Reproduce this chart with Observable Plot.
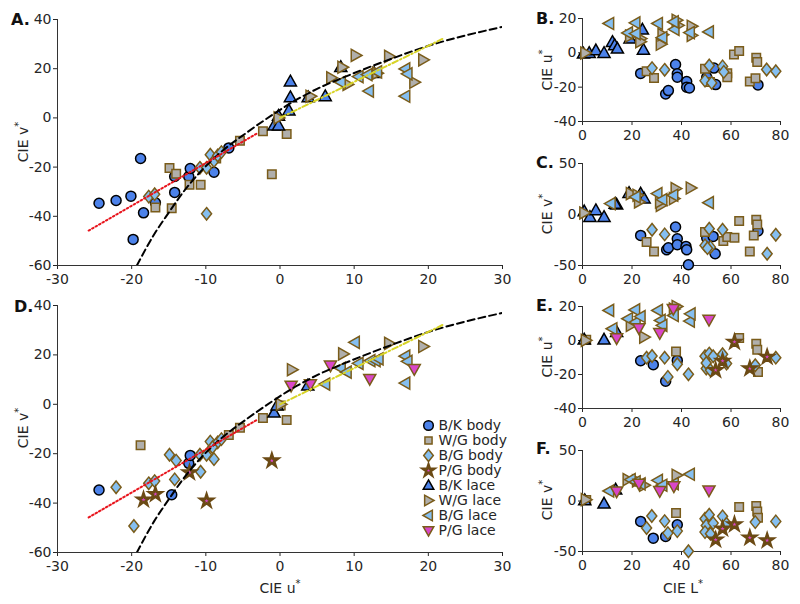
<!DOCTYPE html>
<html><head><meta charset="utf-8">
<script src="https://cdn.jsdelivr.net/npm/d3@7"></script>
<script src="https://cdn.jsdelivr.net/npm/@observablehq/plot@0.6"></script>
<style>
body{margin:0;background:#fff;}
#wrap{position:relative;width:800px;height:604px;overflow:hidden;font-family:"DejaVu Sans",sans-serif;color:#262626;background:#fff;}
#wrap svg{position:absolute;overflow:visible;}
</style></head><body><div id="wrap"></div>
<script>
// ---------- DATA ----------
const uTicks = [-30,-20,-10,0,10,20,30];
const vTicksBig = [-60,-40,-20,0,20,40];
const LTicks = [0,20,40,60,80];
const uTicksSmall = [-40,-20,0,20];
const vTicksSmall = [-50,0,50];

const seriesNames = ["B/K body","W/G body","B/G body","P/G body","B/K lace","W/G lace","B/G lace","P/G lace"];

// fitted lines (u*, v*)
const lineBlack = [[-19.3,-60],[-17,-47.5],[-15,-38.5],[-13,-30],[-11,-22.8],[-8,-14],[-4.5,-6],[-1,1.3],[2,7],[5,11.8],[9.5,17.6],[15,24],[20,29.3],[25,33.5],[30,37]];
const lineRed = [[-25.8,-45.8],[-3.1,-6.3]];
const lineYellow = [[0,0],[21.9,32.1]];

// Panel A (u*, v*)
const A_bkBody = [[-24.4,-34.7],[-22.1,-33.6],[-20.1,-31.8],[-18.8,-16.5],[-18.4,-38.6],[-19.8,-49.4],[-16.8,-34.5],[-14.2,-30.3],[-14.2,-23.8],[-12.3,-23.8],[-12.1,-20.6],[-8.9,-22.1],[-6.9,-12.2]];
const A_wgBody = [[-14.9,-20.4],[-14.0,-22.7],[-16.8,-36.4],[-14.6,-36.7],[-12.2,-27.2],[-10.7,-27.2],[-5.4,-9.3],[-2.3,-5.4],[-1.1,-22.9],[0.9,-6.5],[-8.6,-16.5]];
const A_bgBody = [[-17.7,-32],[-16.9,-31],[-10.8,-20.3],[-9.9,-20.3],[-9.4,-15],[-8.9,-17.5],[-8.4,-15.3],[-7.9,-13.9],[-9.9,-39]];
const A_bkLace = [[1.4,14.8],[1.4,8.4],[1.2,3],[-0.8,-3.1],[-0.2,-3.1],[-0.2,0.8],[3.8,8.4],[6.1,8.8],[8.2,20.6],[12.7,18.2]];
const A_wgLace = [[10.2,25.4],[14.7,25],[19.3,23.6],[6.9,16.3],[8.4,20.6],[4.1,8.8],[-0.2,0],[18.1,14.5],[9.1,13.6],[13.1,18.2]];
const A_bgLace = [[8.2,14.5],[10.6,16.8],[12,10.9],[16.9,19.9],[17.2,17.9],[16.9,8.8],[13.1,18.7],[11.8,17.6]];

// Panel B (L*, u*)
const B_bkBody = [[23.5,-12],[33.6,-24],[34.7,-22],[37.6,-6.8],[38.3,-12.2],[38.3,-14.2],[42.1,-16.7],[42.1,-20],[43.2,-20.5],[50.2,-14.2],[53.1,-8.9],[53.8,-18.5],[70.9,-18.7]];
const B_wgBody = [[25.9,-10.7],[28.9,-14.6],[49.5,-9.3],[61.2,-0.9],[63.3,1],[58.5,-11.9],[58.5,-14.2],[70.2,-2.9],[70.6,-5.4],[67.6,-16.7],[69.9,-14.8],[51.5,-17]];
const B_bgBody = [[28.1,-8.9],[33.2,-9.9],[49.5,-16.2],[51.2,-7.4],[52.2,-17.5],[56.6,-7.9],[57.1,-11.1],[74.4,-9.7],[78.1,-10.7]];
const B_bkLace = [[0.4,-0.5],[2.7,-0.1],[5.4,1.4],[8.7,-0.1],[12.1,6.3],[13,4.4],[14.1,2.4],[19.2,8.3],[24.2,13.5],[24.6,1.8]];
const B_wgLace = [[1.1,-0.1],[19.2,9.8],[23.5,8.3],[31.6,5],[32.3,10.6],[38,19],[38.6,16],[44.1,15.5],[44.1,10.2],[23.3,6.5]];
const B_bgLace = [[10.8,17.1],[18.4,11.6],[21.4,17.5],[21.5,11.2],[30.5,17.1],[32.3,8.9],[37.2,13.7],[43.4,11.8],[51.1,12.2],[36.9,18]];

// Panel C (L*, v*)
const C_bkBody = [[23.5,-20.5],[34,-34.6],[34.7,-32.6],[37.6,-12.3],[38.3,-23.8],[38.3,-29.7],[41.8,-31.3],[42.1,-34.6],[42.8,-49.3],[50.2,-23.1],[52.8,-21.5],[53.6,-38.5],[70.9,-16.2]];
const C_wgBody = [[25.9,-27],[28.9,-36.2],[49.5,-17.2],[56.9,-26.1],[58.5,-22.1],[61.4,-22.8],[63.3,-6.4],[70.2,-5.1],[70.6,-9.7],[69.2,-20.5],[67.6,-36.2]];
const C_bgBody = [[28.1,-14.9],[33.2,-19.5],[49.5,-30.3],[51.2,-13.9],[51.7,-32],[56.6,-14.9],[74.6,-38.5],[78.1,-19.8],[50.5,-33]];
const C_bkLace = [[0.7,3.1],[3,-2.5],[5.4,4.1],[8.7,-2.5],[13.8,9.7],[13.2,10.5],[18.8,21.1],[23.5,20.5],[24.9,15.6]];
const C_wgLace = [[0.7,1.5],[19.5,20.5],[22.2,18.9],[22.8,12.3],[31.6,9],[31.3,12.3],[37.6,25.4],[36.9,15.6],[43.7,26]];
const C_bgLace = [[11.4,10.7],[21.5,17.2],[30.3,20.5],[32.3,14.6],[36.7,18.9],[51.1,11.6]];

// Panel D (u*, v*)
const D_bkBody = [[-24.4,-34.7],[-14.6,-36.6],[-12.3,-23.9],[-12.1,-20.7]];
const D_wgBody = [[-18.8,-16.6],[-2.3,-5.5],[0.9,-6.4],[-5.4,-9.5],[-6.9,-12.4],[0.1,-0.5]];
const D_bgBody = [[-22.1,-33.6],[-19.7,-49.3],[-17.7,-32],[-16.9,-31.1],[-14.9,-20.4],[-14,-22.8],[-14.2,-30.4],[-10.7,-27.3],[-10.8,-20.4],[-9.9,-20.4],[-9.4,-15.1],[-8.9,-22.2],[-8.4,-15.4],[-7.9,-14.1],[-9.1,-17.4]];
const D_pgBody = [[-18.4,-38.6],[-16.8,-36.4],[-12.2,-27.6],[-9.9,-39.1],[-1.1,-22.8]];
const D_bkLace = [[-0.8,-3.4],[-0.4,-0.5],[3.75,7.6]];
const D_wgLace = [[1.6,14],[8.5,20.4],[14.7,24.7],[19.3,23.4],[0.1,0]];
const D_bgLace = [[10.1,25.1],[8.2,14.6],[9,13],[6.1,8.2],[10.6,16.6],[12.2,17.7],[12.9,17.7],[16.9,19.5],[17.2,17.4],[16.9,8.6],[13.3,18.4]];
const D_pgLace = [[1.5,7.6],[4.1,8.2],[6.8,15.7],[12.1,10.3],[18.1,14.3]];

// Panel E (L*, u*)
const E_bkBody = [[23.5,-11.9],[28.6,-14.2],[33.6,-24],[38.3,-11.7]];
const E_wgBody = [[1.5,0.5],[37.8,-6.4],[63.3,1.4],[70.2,-1.9],[70.6,-5.4],[70.9,-18.5]];
const E_bgBody = [[25.9,-10.1],[28.1,-9.1],[33.2,-10.1],[34.5,-21.4],[38.3,-14],[42.8,-19.9],[49.5,-9.3],[51.2,-7.7],[50,-16.5],[50,-13.2],[51.7,-17.5],[52.8,-9.3],[56.6,-8.1],[58.2,-13.6],[69.8,-14.6],[78.1,-10.1]];
const E_pgBody = [[53.8,-17.5],[56.6,-12],[61.4,-0.9],[67.6,-16.5],[74.6,-9.7]];
const E_bkLace = [[0.7,0.5],[8.7,0.5],[13.8,5]];
const E_wgLace = [[1.3,0.1],[19.5,8.9],[24.9,2],[38,20],[36.9,18.5]];
const E_bgLace = [[10.8,17.7],[12.1,6.9],[18.4,12.8],[21.3,18],[21.5,10.8],[23.5,14.1],[30.5,17.7],[31.6,11.8],[32.3,8.9],[36.9,14.7],[43.4,11.4],[43.7,15.7]];
const E_pgLace = [[13.8,1.4],[22.8,7.3],[31.2,4.4],[36.7,18.6],[51.1,12.2]];

// Panel F (L*, v*)
const F_bkBody = [[23.5,-20.2],[28.6,-36.8],[33.6,-35.1],[38.3,-23.5]];
const F_wgBody = [[1.5,1],[37.8,-11.9],[63.3,-6],[70.2,-5],[70.6,-10.3],[70.9,-16.6]];
const F_bgBody = [[28,-14.9],[25.9,-26.8],[33.2,-19.9],[34.5,-31.8],[38.3,-29.8],[42.8,-49.7],[49.5,-17.5],[51.2,-13.6],[50,-24.2],[49.5,-30.8],[51.7,-32.5],[52.8,-21.9],[56.6,-15.2],[58.2,-22.5],[69.8,-20.9],[78.1,-20.2]];
const F_pgBody = [[53.8,-38.4],[56.6,-27.5],[61.4,-23.2],[67.6,-36.4],[74.6,-39.1]];
const F_bkLace = [[0.9,0.7],[8.7,-2.6],[13.4,11.3]];
const F_wgLace = [[1.3,1.3],[18.2,21.2],[24.9,15.6],[38,25.5],[22,20]];
const F_bgLace = [[10.8,9.9],[19.5,21.2],[21.5,18.9],[30.5,20.5],[32.3,15.6],[36.9,17.2],[43.4,26.5],[23.5,17]];
const F_pgLace = [[13.8,9.6],[22.8,17.2],[31.2,9.9],[36.9,14.6],[51.1,10.6]];

// ---------- STYLE ----------
const BROWN = "#7a5c1a", BLUE = "#4c82ea", LBLUE = "#85bff0", GRAY = "#b0afac", MAG = "#d946c8";
function poly(pts){ return {draw(ctx,size){ const r=Math.sqrt(size/Math.PI); ctx.moveTo(pts[0][0]*r,pts[0][1]*r); for(let i=1;i<pts.length;i++) ctx.lineTo(pts[i][0]*r,pts[i][1]*r); ctx.closePath(); }}; }
const SYM = {
  circle: "circle",
  square: poly([[-0.85,-0.85],[0.85,-0.85],[0.85,0.85],[-0.85,0.85]]),
  diamond: poly([[0,-1.25],[1,0],[0,1.25],[-1,0]]),
  star: "star",
  triUp: poly([[0,-1.15],[1.1,0.8],[-1.1,0.8]]),
  triRight: poly([[1.15,0],[-0.8,-1.1],[-0.8,1.1]]),
  triLeft: poly([[-1.15,0],[0.8,-1.1],[0.8,1.1]]),
  triDown: poly([[0,1.15],[1.1,-0.8],[-1.1,-0.8]])
};
const STY = {
  "B/K body": {symbol: SYM.circle, fill: BLUE, stroke: "#000", r: 5},
  "W/G body": {symbol: SYM.square, fill: GRAY, stroke: BROWN, r: 5},
  "B/G body": {symbol: SYM.diamond, fill: LBLUE, stroke: BROWN, r: 5},
  "P/G body": {symbol: SYM.star, fill: MAG, stroke: "#6b4a14", r: 3.8, strokeWidth: 2.6},
  "B/K lace": {symbol: SYM.triUp, fill: BLUE, stroke: "#000", r: 5.5},
  "W/G lace": {symbol: SYM.triRight, fill: GRAY, stroke: BROWN, r: 5.5},
  "B/G lace": {symbol: SYM.triLeft, fill: LBLUE, stroke: BROWN, r: 5.5},
  "P/G lace": {symbol: SYM.triDown, fill: MAG, stroke: BROWN, r: 5.5}
};
function dots(data, name){
  const s = STY[name];
  return Plot.dot(data, {x: d=>d[0], y: d=>d[1], symbol: s.symbol, fill: s.fill, stroke: s.stroke, r: s.r, strokeWidth: s.strokeWidth || 1.5});
}
function fitLines(){
  return [
    Plot.line(lineBlack, {x: d=>d[0], y: d=>d[1], stroke: "#000", strokeWidth: 2, strokeDasharray: "7,4", curve: "monotone-x", clip: true}),
    Plot.line(lineRed, {x: d=>d[0], y: d=>d[1], stroke: "#e8141c", strokeWidth: 2, strokeDasharray: "1.6,2.4"}),
    Plot.line(lineYellow, {x: d=>d[0], y: d=>d[1], stroke: "#d8d426", strokeWidth: 2, strokeDasharray: "6,2.5,1.5,2.5"})
  ];
}

const wrap = document.getElementById("wrap");
function panel(frame, xdom, ydom, xt, yt, sets, extra){
  const mL=50, mR=14, mT=12, mB=30;
  const [fx0,fx1,fy0,fy1] = frame;
  const svg = Plot.plot({
    width: fx1-fx0+mL+mR, height: fy1-fy0+mT+mB,
    marginLeft: mL, marginRight: mR, marginTop: mT, marginBottom: mB,
    style: {fontFamily: "DejaVu Sans, sans-serif", fontSize: "14px", color: "#262626", background: "transparent", overflow: "visible"},
    x: {domain: xdom, ticks: xt, tickSize: 4, tickPadding: 5, tickFormat: d=>String(d), label: null},
    y: {domain: ydom, ticks: yt, tickSize: 4, tickPadding: 2, tickFormat: d=>String(d), label: null},
    marks: [
      Plot.ruleX([xdom[0]], {stroke: "#333", strokeWidth: 1}),
      Plot.ruleY([ydom[0]], {stroke: "#333", strokeWidth: 1}),
      ...sets.map(([d,n]) => dots(d,n)),
      ...(extra || [])
    ]
  });
  svg.style.left = (fx0-mL)+"px";
  svg.style.top = (fy0-mT)+"px";
  wrap.appendChild(svg);
}

panel([57,502,19,265], [-30,30], [-60,40], uTicks, vTicksBig,
  [[A_bkBody,"B/K body"],[A_wgBody,"W/G body"],[A_bgBody,"B/G body"],[A_bkLace,"B/K lace"],[A_wgLace,"W/G lace"],[A_bgLace,"B/G lace"]], fitLines());
panel([57,502,305,552], [-30,30], [-60,40], uTicks, vTicksBig,
  [[D_bkBody,"B/K body"],[D_wgBody,"W/G body"],[D_bgBody,"B/G body"],[D_pgBody,"P/G body"],[D_bkLace,"B/K lace"],[D_wgLace,"W/G lace"],[D_bgLace,"B/G lace"],[D_pgLace,"P/G lace"]], fitLines());
panel([582,780,18,121], [0,80], [-40,20], LTicks, uTicksSmall,
  [[B_bkBody,"B/K body"],[B_wgBody,"W/G body"],[B_bgBody,"B/G body"],[B_bkLace,"B/K lace"],[B_wgLace,"W/G lace"],[B_bgLace,"B/G lace"]]);
panel([582,780,163,265], [0,80], [-50,50], LTicks, vTicksSmall,
  [[C_bkBody,"B/K body"],[C_wgBody,"W/G body"],[C_bgBody,"B/G body"],[C_bkLace,"B/K lace"],[C_wgLace,"W/G lace"],[C_bgLace,"B/G lace"]]);
panel([582,780,306,408], [0,80], [-40,20], LTicks, uTicksSmall,
  [[E_bkBody,"B/K body"],[E_wgBody,"W/G body"],[E_bgBody,"B/G body"],[E_pgBody,"P/G body"],[E_bkLace,"B/K lace"],[E_wgLace,"W/G lace"],[E_bgLace,"B/G lace"],[E_pgLace,"P/G lace"]]);
panel([582,780,450,551], [0,80], [-50,50], LTicks, vTicksSmall,
  [[F_bkBody,"B/K body"],[F_wgBody,"W/G body"],[F_bgBody,"B/G body"],[F_pgBody,"P/G body"],[F_bkLace,"B/K lace"],[F_wgLace,"W/G lace"],[F_bgLace,"B/G lace"],[F_pgLace,"P/G lace"]]);

// legend (inside panel D)
const leg = Plot.plot({
  width: 120, height: 140, margin: 0,
  style: {fontFamily: "DejaVu Sans, sans-serif", fontSize: "14px", color: "#262626", background: "transparent", overflow: "visible"},
  x: {domain: [0,1], range: [8,100], axis: null},
  y: {type: "point", domain: seriesNames, range: [8, 8+7*17.3], axis: null},
  marks: [
    ...seriesNames.map(n => { const s = STY[n]; return Plot.dot([n], {x: ()=>0, y: d=>d, symbol: s.symbol, fill: s.fill, stroke: s.stroke, r: n==="P/G body"?3.5:(n==="W/G body"?4.2:4.8), strokeWidth: s.strokeWidth||1.5}); }),
    Plot.text(seriesNames, {x: ()=>0, y: d=>d, text: d=>d, textAnchor: "start", dx: 10, fill: "#262626"})
  ]
});
leg.style.left = "420px"; leg.style.top = "409px";
wrap.appendChild(leg);

// text overlay
const ov = d3.select(wrap).append("svg").attr("width",800).attr("height",604).style("left","0px").style("top","0px").style("pointer-events","none")
  .attr("font-family","DejaVu Sans, sans-serif").attr("fill","#262626");
const letters = [["A.",11,25],["B.",536,24],["C.",536,168],["D.",14,312],["E.",536,311],["F.",536,454]];
letters.forEach(([t,x,y]) => ov.append("text").attr("x",x).attr("y",y).attr("font-size",16).attr("font-weight","bold").attr("fill","#111").text(t));
function ylab(base, x, y){
  const t = ov.append("text").attr("transform",`translate(${x},${y}) rotate(-90)`).attr("text-anchor","middle").attr("dy","0.35em").attr("font-size",14);
  t.append("tspan").text(base);
  t.append("tspan").attr("dy","-6").attr("font-size",10).text("*");
}
ylab("CIE v", 23, 142); ylab("CIE v", 23, 428);
ylab("CIE u", 547, 70); ylab("CIE v", 547, 214); ylab("CIE u", 547, 357); ylab("CIE v", 547, 500);
function xlab(base, x, y){
  const t = ov.append("text").attr("x",x).attr("y",y).attr("text-anchor","middle").attr("font-size",14);
  t.append("tspan").text(base);
  t.append("tspan").attr("dy","-6").attr("font-size",10).text("*");
}
xlab("CIE u", 280, 593); xlab("CIE L", 683, 593);
</script></body></html>
